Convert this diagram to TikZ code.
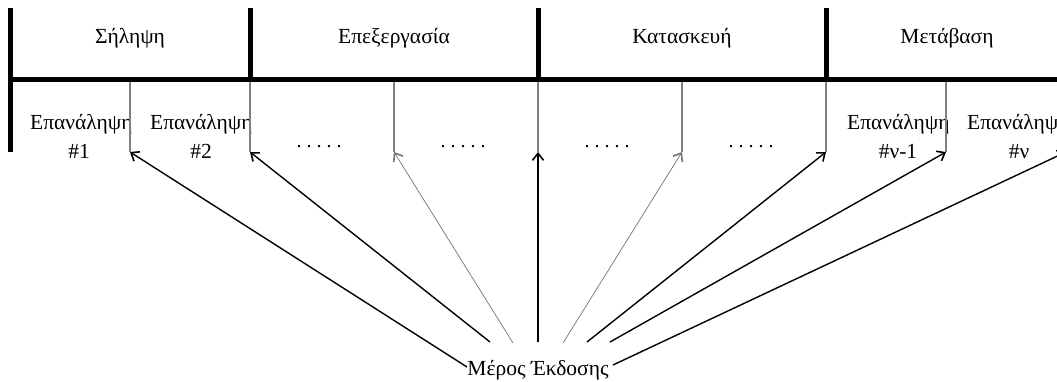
\documentclass[tikz,border=0pt]{standalone}
\usepackage{fontspec}
\setmainfont{Liberation Serif}
\usetikzlibrary{arrows.meta}
\begin{document}
\begin{tikzpicture}[x=1pt,y=-1pt,
  bar/.style={line width=5pt,black},
  tick/.style={line width=2pt,black!50},
  lbl/.style={inner sep=0pt,anchor=base,font=\fontsize{21.5}{26}\selectfont},
  dots/.style={inner sep=0pt,anchor=base,font=\fontsize{20}{24}\selectfont},
  ptr/.style={line width=1.4pt,-{Straight Barb[length=7pt,width=11pt,line width=1.6pt]}},
  faint/.style={line width=0.7pt,black!55,-{Straight Barb[length=7pt,width=11pt,line width=1.6pt]}}]
\useasboundingbox (0,0) rectangle (1057,381);
\clip (0,0) rectangle (1057,381);

% phase headers
\node[lbl] (ph1) at (130,43) {Σήληψη};
\node[lbl] (ph2) at (394,43) {Επεξεργασία};
\node[lbl] (ph3) at (682,43) {Κατασκευή};
\node[lbl] (ph4) at (947,43) {Μετάβαση};

% iteration labels
\node[lbl,anchor=base west] (it1) at (30,129) {Επανάληψη};
\node[lbl] (n1) at (79,158) {\#1};
\node[lbl,anchor=base west] (it2) at (150,129) {Επανάληψη};
\node[lbl] (n2) at (201,158) {\#2};
\node[lbl,anchor=base west] (it3) at (847,129) {Επανάληψη};
\node[lbl] (n3) at (898,158) {\#ν-1};
\node[lbl,anchor=base west] (it4) at (967,129) {Επανάληψη};
\node[lbl] (n4) at (1019,158) {\#ν};

% elided iterations
\node[dots] (d1) at (319,147) {.\hspace{5pt}.\hspace{5pt}.\hspace{5pt}.\hspace{5pt}.};
\node[dots] (d2) at (463,147) {.\hspace{5pt}.\hspace{5pt}.\hspace{5pt}.\hspace{5pt}.};
\node[dots] (d3) at (607,147) {.\hspace{5pt}.\hspace{5pt}.\hspace{5pt}.\hspace{5pt}.};
\node[dots] (d4) at (751,147) {.\hspace{5pt}.\hspace{5pt}.\hspace{5pt}.\hspace{5pt}.};

% iteration boundaries (release points)
\foreach \i/\x in {1/130,2/250,3/394,4/538,5/682,6/826,7/946,8/1066} {
  \coordinate (t\i) at (\x,79);
  \coordinate (b\i) at (\x,152);
  \draw[tick] (t\i) -- (b\i);
}

% phase frame
\coordinate (tl) at (10,8);
\coordinate (bl) at (10,152);
\coordinate (hl) at (10,79);
\coordinate (hr) at (1057,79);
\draw[bar] (tl) -- (bl);
\draw[bar] (hl) -- (hr);
\foreach \x [count=\k] in {250,538,826} {
  \coordinate (s\k) at (\x,8);
  \coordinate (e\k) at (\x,79);
  \draw[bar] (s\k) -- (e\k);
}

% release node and its pointers
\node[lbl] (rel) at (538,375) {Μέρος Έκδοσης};
\coordinate (r1) at (467,367);
\coordinate (r2) at (490,342);
\coordinate (r3) at (513,343);
\coordinate (r4) at (538,342);
\coordinate (r5) at (563,343);
\coordinate (r6) at (587,342);
\coordinate (r7) at (610,342);
\coordinate (r8) at (613,365);

\draw[ptr] (r1) -- (b1);
\draw[ptr] (r2) -- (b2);
\draw[faint] (r3) -- (b3);
\draw[ptr,line width=2.2pt] (r4) -- (b4);
\draw[faint] (r5) -- (b5);
\draw[ptr] (r6) -- (b6);
\draw[ptr] (r7) -- (b7);
\draw[ptr] (r8) -- (b8);
\end{tikzpicture}
\end{document}
